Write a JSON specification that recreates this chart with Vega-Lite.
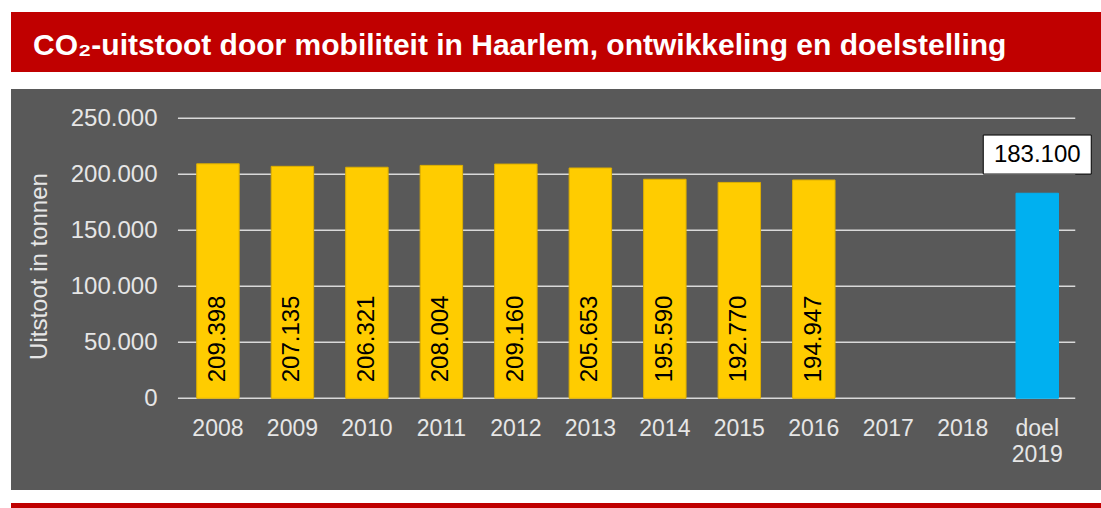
{
  "$schema": "https://vega.github.io/schema/vega-lite/v6.json",
  "background": "white",
  "padding": {"left": 11, "top": 12, "right": 0, "bottom": 0},
  "config": {
    "view": {"stroke": null},
    "font": "Liberation Sans",
    "locale": {"number": {"decimal": ",", "thousands": ".", "grouping": [3], "currency": ["€ ", ""]}}
  },
  "spacing": 17,
  "vconcat": [
    {
      "width": 1090,
      "height": 60,
      "view": {"fill": "#c00000", "stroke": null},
      "data": {"values": [{"titel": "CO₂-uitstoot door mobiliteit in Haarlem, ontwikkeling en doelstelling"}]},
      "mark": {"type": "text", "align": "left", "baseline": "alphabetic", "dx": -523, "dy": 13, "color": "white", "font": "Liberation Sans", "fontSize": 30, "fontWeight": "bold"},
      "encoding": {"text": {"field": "titel", "type": "nominal"}}
    },
    {
      "spacing": 13,
      "vconcat": [
        {
          "width": 1090,
          "height": 401,
          "view": {"fill": "#595959", "stroke": null},
          "data": {
            "values": [
              {"cat": "2008", "value": 209398, "type": "gerealiseerd"},
              {"cat": "2009", "value": 207135, "type": "gerealiseerd"},
              {"cat": "2010", "value": 206321, "type": "gerealiseerd"},
              {"cat": "2011", "value": 208004, "type": "gerealiseerd"},
              {"cat": "2012", "value": 209160, "type": "gerealiseerd"},
              {"cat": "2013", "value": 205653, "type": "gerealiseerd"},
              {"cat": "2014", "value": 195590, "type": "gerealiseerd"},
              {"cat": "2015", "value": 192770, "type": "gerealiseerd"},
              {"cat": "2016", "value": 194947, "type": "gerealiseerd"},
              {"cat": "2017", "value": null, "type": "gerealiseerd"},
              {"cat": "2018", "value": null, "type": "gerealiseerd"},
              {"cat": "doel 2019", "value": 183100, "type": "doel"}
            ]
          },
          "layer": [
            {
              "data": {"values": [{"value": 0}, {"value": 50000}, {"value": 100000}, {"value": 150000}, {"value": 200000}, {"value": 250000}]},
              "mark": {"type": "rule", "color": "#d9d9d9", "strokeWidth": 1.5, "xOffset": -40, "x2Offset": 38},
              "encoding": {
                "x": {"datum": "2008", "type": "nominal"},
                "x2": {"datum": "doel 2019"},
                "y": {"field": "value", "type": "quantitative"}
              }
            },
            {
              "mark": {"type": "bar", "strokeWidth": 1},
              "encoding": {
                "x": {
                  "field": "cat",
                  "type": "nominal",
                  "scale": {
                    "domain": ["2008", "2009", "2010", "2011", "2012", "2013", "2014", "2015", "2016", "2017", "2018", "doel 2019"],
                    "range": [169.7, 1063.5],
                    "paddingInner": 0.43,
                    "paddingOuter": 0.215,
                    "round": false
                  },
                  "axis": {
                    "title": null,
                    "orient": "bottom",
                    "offset": -92,
                    "domain": false,
                    "ticks": false,
                    "tickSize": 0,
                    "grid": false,
                    "labelPadding": 19,
                    "labelColor": "#e6e6e6",
                    "labelFont": "Liberation Sans",
                    "labelFontSize": 23,
                    "labelAngle": 0,
                    "labelAlign": "center",
                    "labelBaseline": "top",
                    "labelLineHeight": 26,
                    "labelOverlap": false,
                    "labelExpr": "datum.value == 'doel 2019' ? ['doel', '2019'] : datum.value"
                  }
                },
                "y": {
                  "field": "value",
                  "type": "quantitative",
                  "scale": {"domain": [-81900, 276200], "nice": false, "zero": false},
                  "axis": {
                    "title": "Uitstoot in tonnen",
                    "values": [0, 50000, 100000, 150000, 200000, 250000],
                    "format": ",.0f",
                    "offset": -168,
                    "domain": false,
                    "ticks": false,
                    "tickSize": 0,
                    "grid": false,
                    "labelPadding": 22,
                    "labelColor": "#e6e6e6",
                    "labelFont": "Liberation Sans",
                    "labelFontSize": 24,
                    "titleColor": "#e6e6e6",
                    "titleFont": "Liberation Sans",
                    "titleFontSize": 24,
                    "titleFontWeight": "normal",
                    "titleAngle": 270,
                    "titleX": -140,
                    "titleY": 177,
                    "titleAlign": "center",
                    "titleBaseline": "middle"
                  }
                },
                "fill": {
                  "field": "type",
                  "type": "nominal",
                  "scale": {"domain": ["gerealiseerd", "doel"], "range": ["#ffcc00", "#00b0f0"]},
                  "legend": null
                },
                "stroke": {
                  "field": "type",
                  "type": "nominal",
                  "scale": {"domain": ["gerealiseerd", "doel"], "range": ["#dcae00", "#00b0f0"]},
                  "legend": null
                }
              }
            },
            {
              "transform": [{"filter": "datum.type == 'gerealiseerd' && isValid(datum.value)"}],
              "mark": {"type": "text", "angle": 270, "align": "left", "baseline": "middle", "fontSize": 24, "font": "Liberation Sans", "color": "black", "yOffset": -16},
              "encoding": {
                "x": {"field": "cat", "type": "nominal"},
                "y": {"datum": 0, "type": "quantitative"},
                "text": {"field": "value", "type": "quantitative", "format": ",.0f"}
              }
            },
            {
              "transform": [{"filter": "datum.type == 'doel'"}],
              "mark": {"type": "point", "shape": "M-1,-0.361H1V0.361H-1Z", "size": 11664, "filled": true, "fill": "white", "stroke": "black", "strokeWidth": 1, "opacity": 1, "yOffset": -38.7},
              "encoding": {
                "x": {"field": "cat", "type": "nominal"},
                "y": {"field": "value", "type": "quantitative"}
              }
            },
            {
              "transform": [{"filter": "datum.type == 'doel'"}],
              "mark": {"type": "text", "align": "center", "baseline": "middle", "fontSize": 24, "font": "Liberation Sans", "color": "black", "yOffset": -38.5},
              "encoding": {
                "x": {"field": "cat", "type": "nominal"},
                "y": {"field": "value", "type": "quantitative"},
                "text": {"field": "value", "type": "quantitative", "format": ",.0f"}
              }
            }
          ]
        },
        {
          "width": 1090,
          "height": 5,
          "view": {"fill": "#c00000", "stroke": null},
          "data": {"values": []},
          "mark": "text",
          "encoding": {}
        }
      ]
    }
  ]
}
